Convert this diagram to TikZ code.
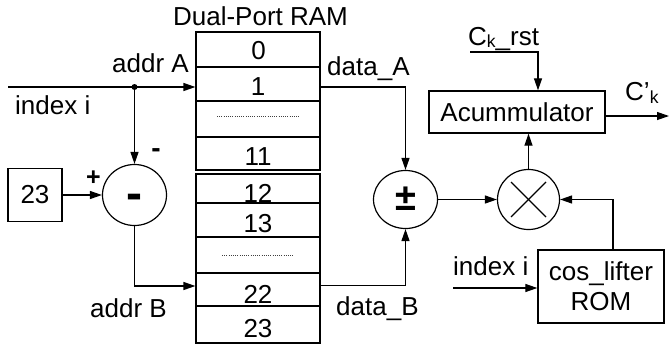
\documentclass[tikz,border=0pt]{standalone}
\usepackage{fontspec}
\setmainfont{Liberation Sans}
\usetikzlibrary{arrows.meta,shapes.geometric,calc}
\newcommand\subk[1][-2.5pt]{\raisebox{#1}{\fontsize{17.5}{17.5}\selectfont k}}
\begin{document}
\begin{tikzpicture}[x=1pt,y=-1pt,
  every node/.style={font=\fontsize{26}{30}\selectfont, inner sep=0pt},
  wire/.style={line width=1.2pt},
  arr/.style={wire,-{Triangle[length=12pt,width=8pt]}},
  cell/.style={draw, line width=1.2pt, minimum width=124pt, inner sep=0pt},
  ramborder/.style={line width=1.5pt},
  blk/.style={draw, line width=1.3pt, inner sep=0pt},
  op/.style={draw, ellipse, line width=1.2pt, inner sep=0pt},
  txt/.style={anchor=base},
  dots/.style={line width=0.9pt, dash pattern=on 0.9pt off 1.3pt, black!75},
]
\useasboundingbox (0,0) rectangle (669,348);

% RAM
\node[txt] (title) at (260.5,25) {Dual-Port RAM};
\node[cell, minimum height=35pt] (c0) at (258,49.5) {};
\node[cell, minimum height=34pt] (c1) at (258,84) {};
\node[cell, minimum height=36pt] (d1) at (258,119) {};
\node[cell, minimum height=33pt] (c11) at (258,153.5) {};
\node[cell, minimum height=29pt] (c12) at (258,188.5) {};
\node[cell, minimum height=34pt] (c13) at (258,220) {};
\node[cell, minimum height=36pt] (d2) at (258,255) {};
\node[cell, minimum height=33pt] (c22) at (258,289.5) {};
\node[cell, minimum height=37pt] (c23) at (258,324.5) {};
\draw[ramborder] (c0.north west) rectangle (c11.south east);
\draw[ramborder] (c12.north west) rectangle (c23.south east);
\node[txt] (t0) at (258.5,59) {0};
\node[txt] (t1) at (258,95) {1};
\node[txt] (t11) at (258,165) {11};
\node[txt] (t12) at (258,202) {12};
\node[txt] (t13) at (258,232) {13};
\node[txt] (t22) at (258,303) {22};
\node[txt] (t23) at (258,337) {23};
\draw[dots] ([xshift=-41pt,yshift=3pt]d1.center) -- ([xshift=41pt,yshift=3pt]d1.center);
\draw[dots] ([xshift=-36pt]d2.center) -- ([xshift=36pt]d2.center);

% left side
\coordinate (in1) at (8,87);
\coordinate (split) at (134.5,87);
\draw[arr] (in1) -- (in1 -| c1.west);
\fill (split) circle (3pt);
\node[txt, anchor=base east] (lA) at (189,72) {addr A};
\node[txt, anchor=base west] (li) at (15,114) {index i};
\node[op, minimum width=64pt, minimum height=61pt] (minus) at (134.5,195) {};
\node[anchor=base, font=\fontsize{48}{48}\selectfont\bfseries] (minust) at (134.5,209) {-};
\draw[arr] (split) -- (minus.north);
\node[anchor=base, font=\fontsize{28}{28}\selectfont\bfseries] (lminus) at (156,157) {-};
\node[blk, minimum width=54pt, minimum height=53pt] (b23) at (35,195) {23};
\node[anchor=base, font=\fontsize{25}{25}\selectfont\bfseries] (lplus) at (93.5,185) {+};
\draw[arr] (b23.east) -- (minus.west);
\draw[arr] (minus.south) |- ([yshift=3.5pt]c22.west);
\node[txt, anchor=base west] (lB) at (90,317) {addr B};

% middle
\node[op, minimum width=64pt, minimum height=58pt] (pm) at (405.5,199.5) {};
\node[anchor=base, font=\fontsize{38}{38}\selectfont\bfseries] (pmt) at (406,210) {±};
\draw[arr] ([yshift=-3pt]c1.east) -| (pm.north);
\draw[arr] ([yshift=4pt]c22.east) -| (pm.south);
\node[txt, anchor=base west] (ldA) at (327,75) {data\_A};
\node[txt, anchor=base west] (ldB) at (336,315) {data\_B};

% right side
\node[op, minimum width=62pt, minimum height=60pt] (mul) at (528.5,199.5) {};
\draw[wire] ($(mul.center)+(-17.5,-17.5)$) -- ($(mul.center)+(17.5,17.5)$);
\draw[wire] ($(mul.center)+(-17.5,17.5)$) -- ($(mul.center)+(17.5,-17.5)$);
\draw[arr] (pm.east) -- (mul.west);

\node[blk, minimum width=126pt, minimum height=73pt, align=center] (rom) at (601,286.5) {cos\_lifter\\ROM};
\draw[arr] ([xshift=12pt]rom.north) |- (mul.east);
\coordinate (in2) at (453,288);
\draw[arr] (in2) -- (in2 -| rom.west);
\node[txt, anchor=base west] (li2) at (453,275) {index i};

\node[blk, minimum width=176pt, minimum height=42pt] (acc) at (517,112) {Acummulator};
\draw[arr] (mul.north) -- (mul.north |- acc.south);
\coordinate (rst) at (470,52);
\draw[arr] (rst) -| ([xshift=21pt]acc.north);
\node[txt, anchor=base west] (lrst) at (468,45) {C\subk\_rst};
\coordinate (out) at (669,116);
\draw[arr] ([yshift=-4pt]acc.east) -- (out);
\node[txt, anchor=base west] (lout) at (625,100) {C’\subk[-3pt]};
\end{tikzpicture}
\end{document}
